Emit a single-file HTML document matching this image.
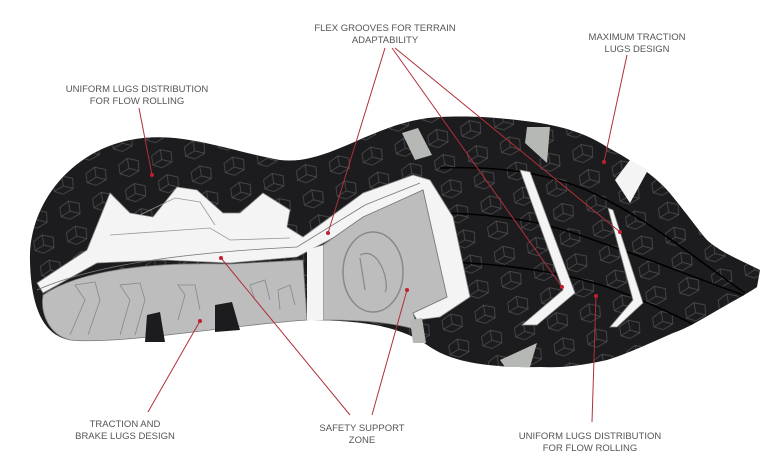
<!DOCTYPE html>
<html><head><style>
html,body{margin:0;padding:0;background:#fff;}
svg{display:block}
text{font-family:"Liberation Sans",sans-serif;font-size:9.5px;fill:#555;text-anchor:middle;}
</style></head><body>
<svg width="768" height="461" viewBox="0 0 768 461">
<defs>
<pattern id="lug" width="34" height="26" patternUnits="userSpaceOnUse" patternTransform="rotate(-15)">
<path d="M4,8 L14,4 L24,9 L22,19 L11,22 L3,17 Z M14,4 L13,14 L22,19 M13,14 L3,17" fill="none" stroke="#4d4d4f" stroke-width="0.8"/>
</pattern>
<clipPath id="cl"><path d="M30,262 C28,205 70,152 130,140 C180,130 225,150 280,160 C330,166 375,120 440,117 C480,115 510,119 540,123 C570,128 590,136 607,147 C640,165 660,180 673,197 C690,218 700,232 707,240 C720,252 740,260 760,270 L757,287 C745,295 735,300 723,307 C700,320 690,327 673,333 C640,348 620,356 607,360 C580,366 560,368 540,367 C480,368 450,360 430,347 C400,325 360,320 300,320 C230,325 120,345 70,340 C40,335 31,300 30,262 Z"/></clipPath>
</defs>
<g clip-path="url(#cl)">
<rect width="768" height="461" fill="#1c1c1e"/>
<rect width="768" height="461" fill="url(#lug)"/>
<g stroke="#000" stroke-width="1.6" fill="none">
<path d="M440,168 C520,165 570,180 607,200 C660,228 700,262 745,293"/>
<path d="M440,213 C500,214 540,222 573,233 C640,255 700,280 757,300"/>
<path d="M450,262 C520,265 570,275 607,287 C650,302 690,322 723,340"/>
</g>
</g>
<path d="M37,283 L87,250 L110,193 L130,213 L153,217 L177,187 L197,190 L223,213 L240,213 L263,193 L290,210 L287,227 L303,237 L363,193 L413,175 L430,180 L453,217 L470,297 L440,317 L417,320 L413,313 L447,297 L423,190 L297,257 L230,263 L163,260 L97,263 L43,293 Z" fill="#f4f4f4" stroke="#888" stroke-width="0.8"/>
<path d="M37,290 C100,262 200,252 297,247 L365,205 L420,183" fill="none" stroke="#777" stroke-width="0.8"/>
<path d="M110,235 L210,228 L230,240 L290,238 M140,215 L175,198 L200,202 L215,225" fill="none" stroke="#999" stroke-width="0.8"/>
<path d="M43,295 C80,270 150,262 230,264 L303,260 L307,320 C230,325 120,345 70,340 C50,335 40,315 43,295 Z" fill="#bdbdbd" stroke="#777" stroke-width="0.8"/>
<path d="M323,245 L363,217 L423,190 L447,297 L413,313 L418,330 C390,322 360,320 323,320 Z" fill="#bdbdbd" stroke="#777" stroke-width="0.8"/>
<path d="M307,250 L323,245 L323,320 L307,320 Z" fill="#f4f4f4"/>
<ellipse cx="373" cy="272" rx="30" ry="40" fill="none" stroke="#888" stroke-width="1.5"/>
<path d="M360,255 C380,245 390,285 385,292 M365,290 L360,258" fill="none" stroke="#888" stroke-width="1.2"/>
<g fill="none" stroke="#888" stroke-width="0.8">
<path d="M70,335 L85,300 L75,285 L95,282 L100,300 L88,335 M120,335 L130,300 L120,285 L140,283 L145,300 L135,335 M178,320 L185,295 L178,285 L195,285 L200,310 M255,300 L250,285 L265,280 L270,300 M280,310 L278,290 L290,285 L295,305"/>
</g>
<path d="M147,315 L160,312 L165,342 L145,342 Z M215,305 L232,302 L240,330 L215,332 Z" fill="#1c1c1e"/>
<path d="M520,170 L530,172 L575,293 L537,325 L522,325 L563,290 Z" fill="#f4f4f4" stroke="#888" stroke-width="0.8"/>
<path d="M608,208 L613,210 L643,303 L617,327 L610,327 L633,300 Z" fill="#f4f4f4" stroke="#888" stroke-width="0.8"/>
<path d="M615,180 L630,160 L648,170 L630,203 Z" fill="#f4f4f4"/>
<path d="M527,127 L550,127 L547,163 L525,143 Z M402,133 L418,128 L432,155 L415,160 Z M500,360 L537,343 L530,367 L505,367 Z M410,320 L422,318 L426,343 L413,343 Z" fill="#b5b8b5"/>
<g stroke="#b0303a" stroke-width="1" fill="none">
<path d="M385,48 L328,233 M392,48 L562,287 M395,48 L620,232 M627,55 L604,162 M139,108 L152,175 M200,321 L148,412 M221,258 L350,415 M407,290 L372,415 M596,296 L592,422"/>
</g>
<g fill="#c0202e">
<circle cx="328" cy="233" r="2"/><circle cx="562" cy="287" r="2"/><circle cx="620" cy="232" r="2"/><circle cx="604" cy="162" r="2"/><circle cx="152" cy="175" r="2"/><circle cx="200" cy="321" r="2"/><circle cx="221" cy="258" r="2"/><circle cx="407" cy="290" r="2"/><circle cx="596" cy="296" r="2"/>
</g>
<text x="385" y="31">FLEX GROOVES FOR TERRAIN</text><text x="385" y="43">ADAPTABILITY</text>
<text x="637" y="40">MAXIMUM TRACTION</text><text x="637" y="52">LUGS DESIGN</text>
<text x="137" y="92">UNIFORM LUGS DISTRIBUTION</text><text x="137" y="104">FOR FLOW ROLLING</text>
<text x="125" y="427">TRACTION AND</text><text x="125" y="439">BRAKE LUGS DESIGN</text>
<text x="362" y="431">SAFETY SUPPORT</text><text x="362" y="443">ZONE</text>
<text x="590" y="439">UNIFORM LUGS DISTRIBUTION</text><text x="590" y="451">FOR FLOW ROLLING</text>
</svg>
</body></html>
